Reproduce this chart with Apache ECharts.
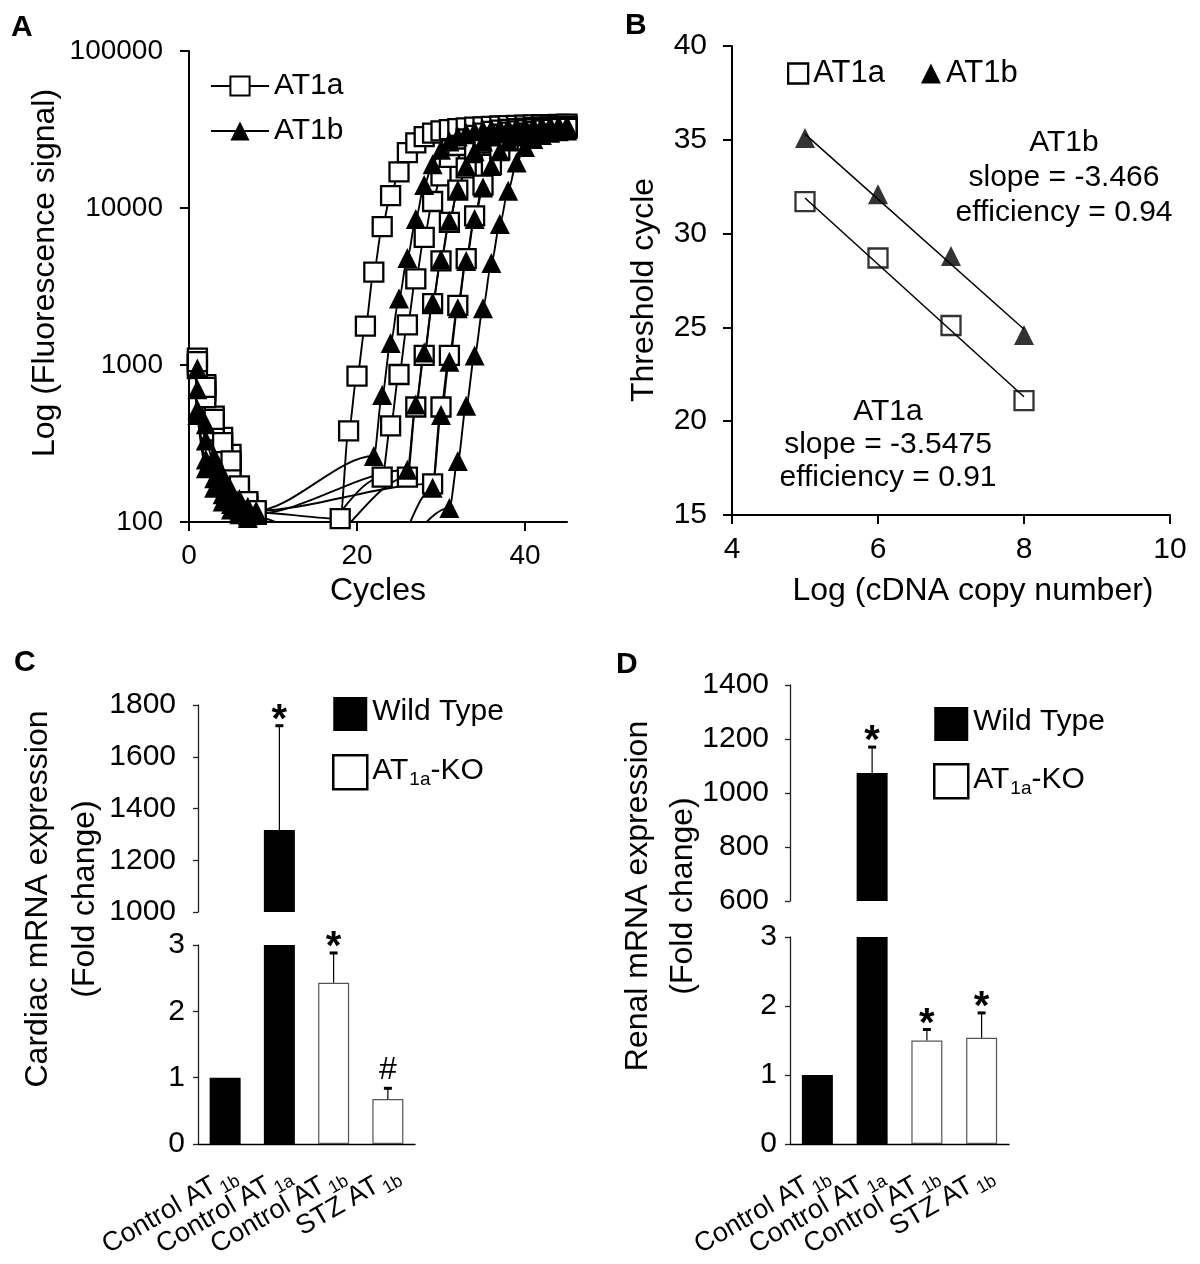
<!DOCTYPE html>
<html><head><meta charset="utf-8">
<script src="https://cdn.jsdelivr.net/npm/echarts@6/dist/echarts.min.js"></script>
<style>html,body{margin:0;padding:0;background:#fff}#c{width:1200px;height:1264px}</style>
</head><body><div id="c"></div>
<script>
const FONT = "'Liberation Sans', Arial, Helvetica, sans-serif";

// ---------- Panel A: amplification curves, [cycle, fluorescence] ----------
const ampAT1a_1 = [[1,1107],[2,750],[3,473],[4,346],[5,270],[6,166],[7,131],[8,115],[18,105],[19,380],[20,850],[21,1770],[22,3900],[23,7600],[24,12000],[25,17000],[26,22500],[27,26000],[28,28500],[29,30000],[30,31000],[31,31600],[32,32000],[33,32400],[34,32700],[35,32900],[36,33100],[37,33300],[38,33500],[39,33600],[40,33700],[41,33800],[42,33900],[43,34000],[44,34100],[45,34200]];
const ampAT1a_2 = [[1,1000],[2,680],[3,420],[4,300],[5,230],[6,160],[7,125],[8,113],[11,50],[23,193],[24,410],[25,870],[26,1800],[27,3540],[28,6500],[29,11000],[30,16000],[31,21000],[32,25000],[33,27500],[34,29000],[35,30000],[36,30800],[37,31300],[38,31700],[39,32000],[40,32300],[41,32500],[42,32700],[43,32900],[44,33000],[45,33100]];
const ampAT1a_3 = [[1,950],[2,620],[3,380],[4,270],[5,200],[6,150],[7,122],[8,112],[13,55],[26,193],[27,540],[28,1150],[29,2460],[30,4600],[31,8100],[32,13000],[33,18000],[34,22500],[35,26000],[36,28000],[37,29500],[38,30400],[39,31000],[40,31500],[41,31900],[42,32200],[43,32400],[44,32600],[45,32800]];
const ampAT1a_4 = [[1,1050],[2,720],[3,450],[4,320],[5,245],[6,170],[7,135],[8,118],[29,175],[30,540],[31,1150],[32,2400],[33,4760],[34,8900],[35,14000],[36,19000],[37,23500],[38,27000],[39,29000],[40,30000],[41,30800],[42,31300],[43,31700],[44,32000],[45,32200]];
const ampAT1b_1 = [[1,950],[2,420],[3,260],[4,200],[5,160],[6,140],[7,125],[8,118],[22,263],[23,645],[24,1380],[25,2650],[26,4800],[27,8500],[28,14000],[29,19000],[30,23500],[31,26500],[32,28500],[33,30000],[34,30800],[35,31400],[36,31900],[37,32300],[38,32600],[39,32800],[40,33000],[41,33200],[42,33400],[43,33500],[44,33600],[45,33700]];
const ampAT1b_2 = [[1,700],[2,330],[3,230],[4,175],[5,145],[6,128],[7,118],[8,113],[26,215],[27,560],[28,1200],[29,2500],[30,4700],[31,8300],[32,13000],[33,18500],[34,23000],[35,26500],[36,28500],[37,29800],[38,30600],[39,31200],[40,31600],[41,32000],[42,32300],[43,32500],[44,32700],[45,32900]];
const ampAT1b_3 = [[1,520],[2,250],[3,190],[4,150],[5,130],[6,118],[7,110],[23,50],[29,165],[30,480],[31,1050],[32,2300],[33,4600],[34,8500],[35,13500],[36,18500],[37,23000],[38,26500],[39,28500],[40,29800],[41,30500],[42,31000],[43,31400],[44,31700],[45,32000]];
const ampAT1b_4 = [[1,480],[2,220],[3,165],[4,135],[5,120],[6,112],[7,106],[22,50],[31,123],[32,245],[33,550],[34,1150],[35,2300],[36,4470],[37,7900],[38,12900],[39,19500],[40,24500],[41,27500],[42,29200],[43,30200],[44,30800],[45,31200]];
const cycleTicks = [0, 20, 40];

// ---------- Panel B: standard curves ----------
const logCopies = [5, 6, 7, 8];
const ctAT1a = [31.7, 28.7, 25.1, 21.1];
const ctAT1b = [35.1, 32.1, 28.8, 24.6];
const fitAT1a = [[5, 31.9], [8, 21.3]];
const fitAT1b = [[5, 35.3], [8, 24.9]];
const noteAT1a = ['AT1a', 'slope = -3.5475', 'efficiency = 0.91'];
const noteAT1b = ['AT1b', 'slope = -3.466', 'efficiency = 0.94'];

// ---------- Panels C & D: fold change bars ----------
const barCategories = ['Control AT1b', 'Control AT1a', 'Control AT1b ', 'STZ AT1b'];
const barGroups = ['Wild Type', 'Wild Type', 'AT1a-KO', 'AT1a-KO'];
const cardiacMean = [1, 1317, 2.43, 0.68];
const cardiacErr = [0, 403, 0.45, 0.16];
const cardiacSig = ['', '*', '*', '#'];
const renalMean = [1, 1074, 1.50, 1.54];
const renalErr = [0, 96, 0.16, 0.36];
const renalSig = ['', '*', '*', '*'];

// ---------------------------------------------------------------
const chart = echarts.init(document.getElementById('c'), null, {renderer: 'canvas'});
const black = '#000';

function ampSeries(name, data) {
  const isA = name === 'AT1a';
  return {
    name, type: 'line', xAxisIndex: 0, yAxisIndex: 0, data,
    smooth: 0.3, smoothMonotone: 'x', clip: true,
    symbol: isA ? 'rect' : 'triangle', symbolSize: isA ? 19 : 20, showAllSymbol: true,
    lineStyle: {color: black, width: 1.9},
    itemStyle: isA ? {color: '#fff', borderColor: black, borderWidth: 2.3} : {color: black, borderWidth: 0},
    emphasis: {disabled: true}, animation: false
  };
}
const subRich = {
  n: {fontSize: 27, fontFamily: FONT, color: black, lineHeight: 31, verticalAlign: 'top'},
  s: {fontSize: 18, fontFamily: FONT, color: black, padding: [13, 0, 0, 3], verticalAlign: 'top'}
};
function catLabel(v) {
  const m = v.trim().match(/^(.*AT)(1[ab])$/);
  return m ? '{n|' + m[1] + '}{s|' + m[2] + '}' : '{n|' + v + '}';
}
const legRich = {
  n: {fontSize: 30, fontFamily: FONT, color: black, lineHeight: 34, verticalAlign: 'top'},
  s: {fontSize: 19, fontFamily: FONT, color: black, padding: [15, 0, 0, 1], verticalAlign: 'top'}
};
function legFmt(name) {
  if (name === 'AT1a-KO') return '{n|AT}{s|1a}{n|-KO}';
  return '{n|' + name + '}';
}

function barSeries(group, xi, yi, means) {
  const isWT = group === 'Wild Type';
  return {
    name: group, type: 'bar', xAxisIndex: xi, yAxisIndex: yi, clip: true,
    barWidth: 31, barGap: '-100%',
    data: means.map((v, i) => (barGroups[i] === group ? v : '-')),
    itemStyle: isWT ? {color: black} : {color: '#fff', borderColor: '#555', borderWidth: 1.2},
    emphasis: {disabled: true}, animation: false
  };
}
function errSeries(xi, yi, means, errs, sigs) {
  return {
    type: 'custom', xAxisIndex: xi, yAxisIndex: yi, z: 5, silent: true, animation: false,
    data: means.map((m, i) => [i, m, errs[i]]),
    renderItem(params, api) {
      const i = api.value(0), m = api.value(1), e = api.value(2);
      if (!(e > 0)) return null;
      const cs = params.coordSys;
      const p0 = api.coord([i, m]);
      const p1 = api.coord([i, m + e]);
      if (p1[1] < cs.y - 2 || p1[1] > cs.y + cs.height + 2) return null;
      const y0 = Math.min(p0[1], cs.y + cs.height);
      const sig = sigs[params.dataIndex];
      const children = [
        {type: 'line', shape: {x1: p0[0], y1: y0, x2: p1[0], y2: p1[1]}, style: {stroke: black, lineWidth: 1.2}},
        {type: 'line', shape: {x1: p1[0] - 4, y1: p1[1], x2: p1[0] + 4, y2: p1[1]}, style: {stroke: black, lineWidth: 3}}
      ];
      if (sig) {
        const star = sig === '*';
        children.push({type: 'text', x: p1[0], y: p1[1] - (star ? 5 : 18),
          style: {text: sig, fontSize: star ? 40 : 32, fontWeight: star ? 'bold' : 'normal', fontFamily: FONT, fill: black, align: 'center', verticalAlign: 'middle'}});
      }
      return {type: 'group', children};
    }
  };
}

const axisBold = {show: true, lineStyle: {color: black, width: 2}};
const tickBold = {show: true, length: 9, inside: false, lineStyle: {color: black, width: 2}};
const axisThin = {show: true, lineStyle: {color: '#222', width: 1.3}};
const tickThin = {show: true, length: 5, inside: false, lineStyle: {color: '#222', width: 1.3}};

const option = {
  animation: false,
  backgroundColor: '#fff',
  textStyle: {fontFamily: FONT, color: black},
  grid: [
    {left: 189, top: 51, width: 378, height: 471},     // A
    {left: 732, top: 46, width: 438, height: 469},     // B
    {left: 198, top: 705, width: 217, height: 207},    // C upper
    {left: 198, top: 945, width: 217, height: 205},    // C lower
    {left: 790, top: 685, width: 219, height: 216},    // D upper
    {left: 790, top: 937, width: 219, height: 215}     // D lower
  ],
  xAxis: [
    {gridIndex: 0, type: 'value', min: 0, max: 45, interval: 20, splitLine: {show: false},
     axisLine: axisBold, axisTick: Object.assign({customValues: cycleTicks}, tickBold),
     axisLabel: {customValues: cycleTicks, fontSize: 28, color: black, margin: 20, fontFamily: FONT,
       formatter: v => (v % 20 === 0 ? String(v) : '')},
     name: 'Cycles', nameLocation: 'middle', nameGap: 53,
     nameTextStyle: {fontSize: 32, color: black, fontFamily: FONT}},
    {gridIndex: 1, type: 'value', min: 4, max: 10, interval: 2, splitLine: {show: false},
     axisLine: axisBold, axisTick: tickBold,
     axisLabel: {fontSize: 30, color: black, margin: 20, fontFamily: FONT},
     name: 'Log (cDNA copy number)', nameLocation: 'middle', nameGap: 60,
     nameTextStyle: {fontSize: 32, color: black, fontFamily: FONT, padding: [0, 0, 0, 44]}},
    {gridIndex: 2, type: 'category', data: barCategories, show: false},
    {gridIndex: 3, type: 'category', data: barCategories,
     axisLine: {show: true, lineStyle: {color: black, width: 1.4}}, axisTick: {show: false},
     axisLabel: {interval: 0, rotate: 30, margin: 36, padding: [0, -12, 0, 0], formatter: catLabel, rich: subRich}},
    {gridIndex: 4, type: 'category', data: barCategories, show: false},
    {gridIndex: 5, type: 'category', data: barCategories,
     axisLine: {show: true, lineStyle: {color: black, width: 1.4}}, axisTick: {show: false},
     axisLabel: {interval: 0, rotate: 30, margin: 36, padding: [0, -12, 0, 0], formatter: catLabel, rich: subRich}}
  ],
  yAxis: [
    {gridIndex: 0, type: 'log', logBase: 10, min: 100, max: 100000, splitLine: {show: false},
     minorTick: {show: false}, axisLine: axisBold, axisTick: tickBold,
     axisLabel: {fontSize: 28, color: black, margin: 26, fontFamily: FONT, formatter: v => String(v)},
     name: 'Log (Fluorescence signal)', nameLocation: 'middle', nameGap: 128, nameRotate: 90,
     nameTextStyle: {fontSize: 32, color: black, fontFamily: FONT, padding: [0, 0, 0, 27]}},
    {gridIndex: 1, type: 'value', min: 15, max: 40, interval: 5, splitLine: {show: false},
     axisLine: axisBold, axisTick: tickBold,
     axisLabel: {fontSize: 30, color: black, margin: 25, fontFamily: FONT},
     name: 'Threshold cycle', nameLocation: 'middle', nameGap: 72, nameRotate: 90,
     nameTextStyle: {fontSize: 32, color: black, fontFamily: FONT, padding: [0, 19, 0, 0]}},
    {gridIndex: 2, type: 'value', min: 1000, max: 1800, interval: 200, splitLine: {show: false},
     axisLine: axisThin, axisTick: tickThin,
     axisLabel: {fontSize: 30, color: black, margin: 22, fontFamily: FONT, formatter: v => String(v)}},
    {gridIndex: 3, type: 'value', min: 0, max: 3, interval: 1, splitLine: {show: false},
     axisLine: axisThin, axisTick: tickThin,
     axisLabel: {fontSize: 30, color: black, margin: 13, fontFamily: FONT}},
    {gridIndex: 4, type: 'value', min: 600, max: 1400, interval: 200, splitLine: {show: false},
     axisLine: axisThin, axisTick: tickThin,
     axisLabel: {fontSize: 30, color: black, margin: 21, fontFamily: FONT, formatter: v => String(v)}},
    {gridIndex: 5, type: 'value', min: 0, max: 3, interval: 1, splitLine: {show: false},
     axisLine: axisThin, axisTick: tickThin,
     axisLabel: {fontSize: 30, color: black, margin: 13, fontFamily: FONT}}
  ],
  legend: [
    {left: 205, top: 66, orient: 'vertical', itemWidth: 58, itemHeight: 24, itemGap: 15,
     data: ['AT1a', 'AT1b'], selectedMode: false,
     textStyle: {fontSize: 30, color: black, fontFamily: FONT}},
    {left: 782, top: 53, orient: 'horizontal', itemWidth: 20, itemHeight: 20, itemGap: 36, selectedMode: false,
     data: [
       {name: 'AT1a', icon: 'rect', itemStyle: {color: 'rgba(0,0,0,0)', borderColor: black, borderWidth: 2.3}},
       {name: 'AT1b', icon: 'triangle', itemStyle: {color: black, borderWidth: 0}}
     ],
     textStyle: {fontSize: 31, color: black, fontFamily: FONT}},
    {left: 327, top: 692, orient: 'vertical', itemWidth: 34, itemHeight: 34, itemGap: 23, selectedMode: false,
     data: [
       {name: 'Wild Type', icon: 'rect', itemStyle: {color: black, borderWidth: 0}},
       {name: 'AT1a-KO', icon: 'rect', itemStyle: {color: '#fff', borderColor: black, borderWidth: 2.5}}
     ],
     formatter: legFmt, textStyle: {rich: legRich}},
    {left: 928, top: 702, orient: 'vertical', itemWidth: 34, itemHeight: 34, itemGap: 22, selectedMode: false,
     data: [
       {name: 'Wild Type', icon: 'rect', itemStyle: {color: black, borderWidth: 0}},
       {name: 'AT1a-KO', icon: 'rect', itemStyle: {color: '#fff', borderColor: black, borderWidth: 2.5}}
     ],
     formatter: legFmt, textStyle: {rich: legRich}}
  ],
  series: [
    ampSeries('AT1a', ampAT1a_1), ampSeries('AT1a', ampAT1a_2), ampSeries('AT1a', ampAT1a_3), ampSeries('AT1a', ampAT1a_4),
    ampSeries('AT1b', ampAT1b_1), ampSeries('AT1b', ampAT1b_2), ampSeries('AT1b', ampAT1b_3), ampSeries('AT1b', ampAT1b_4),
    {name: 'AT1a fit', type: 'line', xAxisIndex: 1, yAxisIndex: 1, data: fitAT1a, showSymbol: false,
     lineStyle: {color: black, width: 1.5}, emphasis: {disabled: true}},
    {name: 'AT1b fit', type: 'line', xAxisIndex: 1, yAxisIndex: 1, data: fitAT1b, showSymbol: false,
     lineStyle: {color: black, width: 1.5}, emphasis: {disabled: true}},
    {name: 'AT1a', type: 'scatter', xAxisIndex: 1, yAxisIndex: 1, symbol: 'rect', symbolSize: 19,
     data: logCopies.map((x, i) => [x, ctAT1a[i]]),
     itemStyle: {color: 'rgba(0,0,0,0)', borderColor: black, borderWidth: 2.3}, emphasis: {disabled: true}},
    {name: 'AT1b', type: 'scatter', xAxisIndex: 1, yAxisIndex: 1, symbol: 'triangle', symbolSize: 20,
     data: logCopies.map((x, i) => [x, ctAT1b[i]]),
     itemStyle: {color: black}, emphasis: {disabled: true}},
    barSeries('Wild Type', 2, 2, cardiacMean), barSeries('AT1a-KO', 2, 2, cardiacMean),
    barSeries('Wild Type', 3, 3, cardiacMean), barSeries('AT1a-KO', 3, 3, cardiacMean),
    errSeries(2, 2, cardiacMean, cardiacErr, cardiacSig), errSeries(3, 3, cardiacMean, cardiacErr, cardiacSig),
    barSeries('Wild Type', 4, 4, renalMean), barSeries('AT1a-KO', 4, 4, renalMean),
    barSeries('Wild Type', 5, 5, renalMean), barSeries('AT1a-KO', 5, 5, renalMean),
    errSeries(4, 4, renalMean, renalErr, renalSig), errSeries(5, 5, renalMean, renalErr, renalSig)
  ],
  graphic: [
    {type: 'text', x: 11, y: 13, style: {text: 'A', fontSize: 30, fontWeight: 'bold', fontFamily: FONT, fill: black}},
    {type: 'text', x: 625, y: 11, style: {text: 'B', fontSize: 30, fontWeight: 'bold', fontFamily: FONT, fill: black}},
    {type: 'text', x: 14, y: 648, style: {text: 'C', fontSize: 30, fontWeight: 'bold', fontFamily: FONT, fill: black}},
    {type: 'text', x: 616, y: 650, style: {text: 'D', fontSize: 30, fontWeight: 'bold', fontFamily: FONT, fill: black}},
    {type: 'text', x: 1064, y: 178, style: {text: noteAT1b.join('\n'), fontSize: 30, lineHeight: 35, fontFamily: FONT, fill: black, align: 'center', verticalAlign: 'middle'}},
    {type: 'text', x: 888, y: 445, style: {text: noteAT1a.join('\n'), fontSize: 30, lineHeight: 33, fontFamily: FONT, fill: black, align: 'center', verticalAlign: 'middle'}},
    {type: 'text', x: 38, y: 899, rotation: Math.PI / 2, style: {text: 'Cardiac mRNA expression', fontSize: 32, fontFamily: FONT, fill: black, align: 'center', verticalAlign: 'middle'}},
    {type: 'text', x: 85, y: 899, rotation: Math.PI / 2, style: {text: '(Fold change)', fontSize: 32, fontFamily: FONT, fill: black, align: 'center', verticalAlign: 'middle'}},
    {type: 'text', x: 638, y: 896, rotation: Math.PI / 2, style: {text: 'Renal mRNA expression', fontSize: 32, fontFamily: FONT, fill: black, align: 'center', verticalAlign: 'middle'}},
    {type: 'text', x: 683, y: 896, rotation: Math.PI / 2, style: {text: '(Fold change)', fontSize: 32, fontFamily: FONT, fill: black, align: 'center', verticalAlign: 'middle'}}
  ]
};
chart.setOption(option);
</script>
</body></html>
